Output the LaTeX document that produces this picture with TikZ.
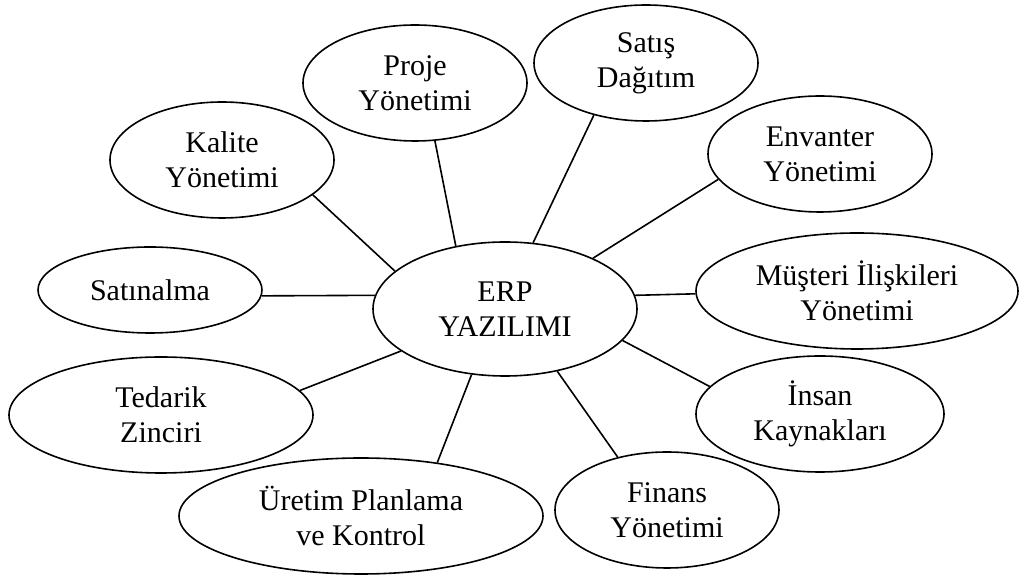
\documentclass[tikz,border=0pt]{standalone}
\usepackage{fontspec}
\setmainfont{Liberation Serif}
\usetikzlibrary{shapes.geometric}

\tikzset{
  modul/.style={ellipse,draw,line width=0.8pt,inner sep=0pt,align=center,
    minimum width=112pt,minimum height=58pt,font=\fontsize{15}{17.5}\selectfont},
  bag/.style={line width=0.8pt}
}

\begin{document}
\begin{tikzpicture}[x=0.5pt,y=-0.5pt]
\useasboundingbox (0,0) rectangle (1019,576);

\node[modul,minimum width=132pt,minimum height=67pt] (erp) at (505,309) {ERP\\YAZILIMI};

\node[modul] (proje) at (415,83) {Proje\\Yönetimi};
\node[modul] (satis) at (646,63) {Satış\\Dağıtım};
\node[modul] (envanter) at (820,154) {Envanter\\Yönetimi};
\node[modul] (kalite) at (222,160) {Kalite\\Yönetimi};
\node[modul,minimum height=43pt] (satinalma) at (150,290) {Satınalma};
\node[modul,minimum width=161pt] (musteri) at (857,291) {Müşteri İlişkileri\\Yönetimi};
\node[modul,minimum width=152pt] (tedarik) at (161,415) {Tedarik\\Zinciri};
\node[modul,minimum width=124pt] (insan) at (820,414) {İnsan\\Kaynakları};
\node[modul,minimum width=182pt] (uretim) at (361,516) {Üretim Planlama\\ve Kontrol};
\node[modul] (finans) at (667,510) {Finans\\Yönetimi};

\draw[bag] (kalite.-21.8) -- (erp.161.4);
\draw[bag] (proje.-71.3) -- (erp.128);
\draw[bag] (satis.225.5) -- (erp.67);
\draw[bag] (envanter.194.7) -- (erp.30.2);
\draw[bag] (satinalma.-3.6) -- (erp.174.7);
\draw[bag] (musteri.181.4) -- (erp.6);
\draw[bag] (tedarik.10.4) -- (erp.202.4);
\draw[bag] (uretim.35.2) -- (erp.243.8);
\draw[bag] (finans.133.3) -- (erp.-50.5);
\draw[bag] (insan.166.3) -- (erp.-15.6);
\end{tikzpicture}
\end{document}
